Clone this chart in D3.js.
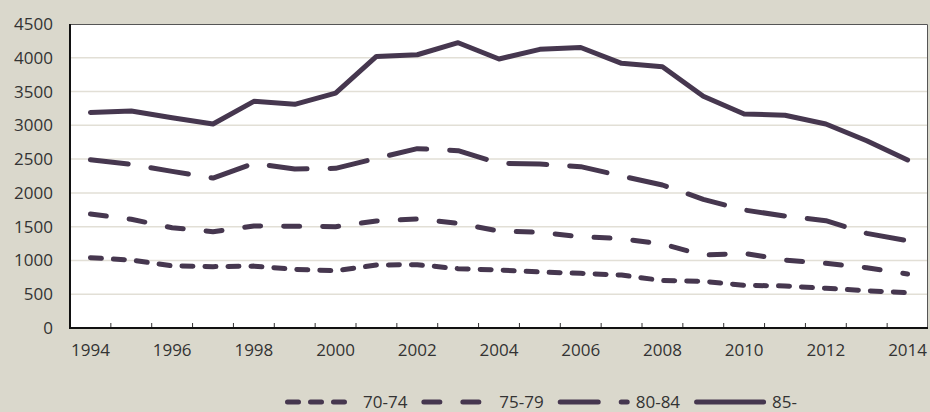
<!DOCTYPE html>
<html>
<head>
<meta charset="utf-8">
<script src="https://cdn.jsdelivr.net/npm/d3@7"></script>
<style>
  html, body { margin: 0; padding: 0; background: #dad8cc; }
  svg { display: block; }
  text { font-family: "Open Sans", sans-serif; fill: #333; }
</style>
</head>
<body>
<svg id="chart" width="930" height="412"></svg>
<script>
// Years on the x axis
const years = [1994, 1995, 1996, 1997, 1998, 1999, 2000, 2001, 2002, 2003, 2004,
               2005, 2006, 2007, 2008, 2009, 2010, 2011, 2012, 2013, 2014];

// Age-group series
const age7074 = [1040, 1006, 920, 908, 916, 868, 848, 932, 937, 878, 858,
                 829, 809, 784, 702, 691, 632, 622, 588, 552, 523];
const age7579 = [1687, 1609, 1485, 1426, 1510, 1505, 1500, 1584, 1613, 1549, 1436,
                 1416, 1352, 1322, 1243, 1080, 1105, 1006, 957, 893, 799];
const age8084 = [2490, 2423, 2319, 2220, 2438, 2353, 2363, 2512, 2655, 2625, 2438,
                 2427, 2388, 2250, 2117, 1905, 1747, 1658, 1588, 1401, 1292];
const age85 = [3190, 3212, 3113, 3020, 3355, 3311, 3478, 4020, 4045, 4223, 3982,
               4125, 4152, 3918, 3866, 3430, 3168, 3150, 3020, 2772, 2487];

const seriesNames = ["70-74", "75-79", "80-84", "85-"];
const yTicks = [0, 500, 1000, 1500, 2000, 2500, 3000, 3500, 4000, 4500];
const xLabelYears = [1994, 1996, 1998, 2000, 2002, 2004, 2006, 2008, 2010, 2012, 2014];

const seriesValues = [age7074, age7579, age8084, age85];
// dash patterns per series (round caps lengthen each dash by the stroke width)
const dashes = ["11,12", "16,23", "38,23", null];
const lineColor = "#46374f";

const svg = d3.select("#chart");
const plot = { left: 70, right: 928, top: 24, bottom: 328 };

const x = d3.scaleBand().domain(years).range([plot.left, plot.right]).padding(0);
const y = d3.scaleLinear().domain([0, 4500]).range([plot.bottom, plot.top]);
const cx = d => x(d) + x.bandwidth() / 2;

// plot background
svg.append("rect")
  .attr("x", plot.left).attr("y", plot.top)
  .attr("width", plot.right - plot.left).attr("height", plot.bottom - plot.top)
  .attr("fill", "#fff");

// horizontal gridlines
svg.append("g").selectAll("line")
  .data(yTicks.filter(v => v > 0 && v < 4500))
  .join("line")
  .attr("x1", plot.left).attr("x2", plot.right)
  .attr("y1", d => y(d)).attr("y2", d => y(d))
  .attr("stroke", "#e2dfd6").attr("stroke-width", 1.5);

// top/right frame
svg.append("path")
  .attr("d", `M${plot.left},${plot.top + 0.5}H${plot.right - 0.5}V${plot.bottom}`)
  .attr("fill", "none").attr("stroke", "#555").attr("stroke-width", 1);

// y axis labels
const yAxis = d3.axisLeft(y).tickValues(yTicks).tickFormat(d3.format("d"))
  .tickSize(0).tickPadding(17);
const gy = svg.append("g").attr("transform", `translate(${plot.left},0)`).call(yAxis);
gy.select(".domain").remove();
gy.selectAll("text").style("font-size", "17px").style("font-family", null).attr("fill", "#333");

// x axis labels (every other year, centred on the points)
const xAxis = d3.axisBottom(x).tickValues(xLabelYears).tickSize(0).tickPadding(16);
const gx = svg.append("g").attr("transform", `translate(0,${plot.bottom})`).call(xAxis);
gx.select(".domain").remove();
gx.selectAll("text").style("font-size", "17px").style("font-family", null).attr("fill", "#333");

// tick marks on category boundaries, pointing into the plot
svg.append("g").selectAll("line")
  .data(years.slice(1))
  .join("line")
  .attr("x1", d => x(d)).attr("x2", d => x(d))
  .attr("y1", plot.bottom).attr("y2", plot.bottom - 5)
  .attr("stroke", "#333").attr("stroke-width", 1);

// left and bottom axis lines
svg.append("path")
  .attr("d", `M${plot.left},${plot.top}V${plot.bottom}H${plot.right}`)
  .attr("fill", "none").attr("stroke", "#111").attr("stroke-width", 2);

// series lines
const line = d3.line().x((d, i) => cx(years[i])).y(d => y(d));
seriesValues.forEach((vals, k) => {
  svg.append("path")
    .datum(vals)
    .attr("d", line)
    .attr("fill", "none")
    .attr("stroke", lineColor)
    .attr("stroke-width", 5)
    .attr("stroke-linecap", "round")
    .attr("stroke-linejoin", "round")
    .attr("stroke-dasharray", dashes[k]);
});

// legend
const legend = svg.append("g").attr("transform", "translate(0,402)");
let lx = 285;
seriesNames.forEach((name, k) => {
  const item = legend.append("g").attr("transform", `translate(${lx},0)`);
  item.append("path")
    .attr("d", "M2.5,0H69.5")
    .attr("stroke", lineColor).attr("stroke-width", 5)
    .attr("stroke-linecap", "round")
    .attr("stroke-dasharray", dashes[k]);
  const t = item.append("text")
    .attr("x", 78).attr("y", 0).attr("dy", "0.35em")
    .style("font-size", "17px")
    .text(name);
  lx += 78 + t.node().getComputedTextLength() + 14;
});
</script>
</body>
</html>
